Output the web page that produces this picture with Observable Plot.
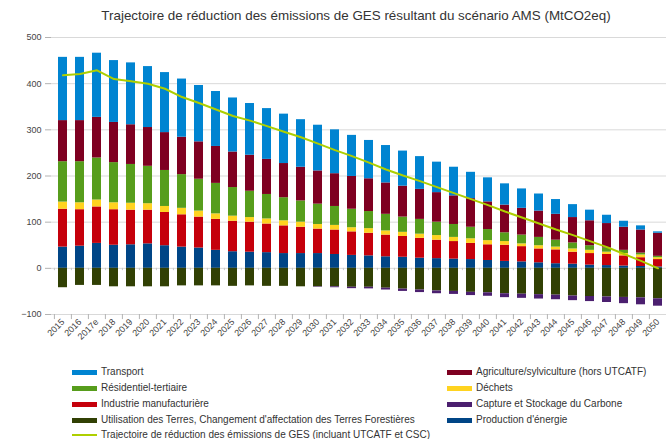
<!DOCTYPE html>
<html><head><meta charset="utf-8">
<script src="https://cdn.jsdelivr.net/npm/d3@7"></script>
<script src="https://cdn.jsdelivr.net/npm/@observablehq/plot@0.6"></script>
<style>
html,body{margin:0;padding:0;background:#fff;overflow:hidden;width:666px;height:439px;}
body{font-family:"Liberation Sans",Arial,sans-serif;color:#333;position:relative;}
#title{position:absolute;left:0;top:8px;width:712px;text-align:center;font-size:13.4px;color:#333;white-space:nowrap;}
#chart{position:absolute;left:0;top:30px;}
.li{position:absolute;font-size:10px;color:#333;white-space:nowrap;line-height:12px;}
.sw{position:absolute;width:25px;height:5px;}
</style></head><body>
<div id="title">Trajectoire de réduction des émissions de GES résultant du scénario AMS (MtCO2eq)</div>
<div id="chart"></div>
<div id="legend"></div>
<script>
const years = ["2015","2016","2017e","2018","2019","2020","2021","2022","2023","2024","2025","2026","2027","2028","2029","2030","2031","2032","2033","2034","2035","2036","2037","2038","2039","2040","2041","2042","2043","2044","2045","2046","2047","2048","2049","2050"];
const production = [46,48,54,50,51,53,49,46,44,39,36,35,34,32,32,32,30,28,27,25,24,22,21,20,19,17,15,14,12,10,9,7,6,5,4,3];
const industrie = [82,79,79,77,75,73,72,70,67,67,66,65,62,60,57,53,53,51,49,47,45,43,40,38,35,34,35,33,30,30,26,25,24,22,19,16];
const dechets = [15.5,15,15,15,15,14,13,14,13,12,11,10,11,11,11,10,10,9,10,9,9,9,10,9,10,9,8,6,7,6,7,7,5,5,6,4];
const residentiel = [87.5,89,91,87,84,81,78,73,69,66,62,57,53,50,46,44,41,40,37,36,33,32,29,28,25,24,19,19,18,15,13,10,9,7,4,3];
const agriculture = [89,89,88,87,86,84,82,81,81,80,77,78,76,74,73,72,71,71,71,68,67,65,64,62,62,60,60,58,57,56,55,54,53,50,50,50];
const transport = [137,137,139,134,134,132,130,126,122,119,117,112,110,107,103,99,95,89,83,81,76,71,66,62,57,52,46,42,37,32,28,23,18,13,9,3];
const utcatf = [-42,-37,-37,-40,-40,-40,-40,-38,-38,-38,-39,-38,-39,-39,-40,-40,-40,-41,-41,-43,-45,-47,-49,-50,-52,-53,-55,-56,-57,-58,-60,-61,-62,-63,-64,-66];
const ccs = [0,0,0,0,0,0,0,0,0,0,0,0,0,0,0,-1,-2,-3,-3.5,-4,-5,-5.5,-6,-6.5,-7,-7.5,-8.5,-9,-9.5,-10,-10,-11,-12,-13.5,-15,-16];
const trajectoire = [418,421,429,410,405,400,389,371,358,344,330,320,308,296,284,270,256,243,229,214,201,189,176,163,150,137,123,110,97,84,72,59,46,31,16,0];
const yTicks = [-100,0,100,200,300,400,500];

const seriesNames = ["Production d'énergie","Industrie manufacturière","Déchets","Résidentiel-tertiaire","Agriculture/sylviculture (hors UTCATF)","Transport","Utilisation des Terres, Changement d'affectation des Terres Forestières","Capture et Stockage du Carbone"];
const seriesValues = [production, industrie, dechets, residentiel, agriculture, transport, utcatf, ccs];
const seriesColors = ["#004586","#c5000b","#ffd320","#579d1c","#7e0021","#0084d1","#314004","#4b1f6f"];
const lineName = "Trajectoire de réduction des émissions de GES (incluant UTCATF et CSC)";
const lineColor = "#aecf00";

const rows = seriesNames.flatMap((name, s) => seriesValues[s].map((v, i) => ({year: years[i], serie: name, value: v})));
const lineRows = years.map((y, i) => ({year: y, value: trajectoire[i]}));

const W = 666, ML = 51, MR = -4;
const step = (W - MR - ML) / years.length;

const chart = Plot.plot({
  width: W, height: 330,
  marginLeft: ML, marginRight: MR, marginTop: 7, marginBottom: 46,
  style: {fontFamily: "Liberation Sans, Arial, sans-serif", overflow: "hidden", background: "white"},
  x: {type: "band", domain: years, paddingInner: 0.45, paddingOuter: 0.225, axis: null},
  y: {domain: [-100, 500], axis: null},
  color: {domain: seriesNames, range: seriesColors},
  marks: [
    Plot.gridY(yTicks, {stroke: "#d9d9d9", strokeOpacity: 1}),
    Plot.axisY(yTicks, {tickSize: 6, tickPadding: 4, stroke: "#b3b3b3", fill: "#444", fontSize: 9, line: true, label: null}),
    Plot.barY(rows, {x: "year", y: "value", fill: "serie"}),
    Plot.ruleX(years, {x: d => d, y1: 0, y2: -5, dx: -step / 2, stroke: "#c8c8c8"}),
    Plot.ruleX(years, {x: d => d, y1: -100, y2: -111, dx: -step / 2, stroke: "#b3b3b3"}),
    Plot.line(lineRows, {x: "year", y: "value", stroke: lineColor, strokeWidth: 2}),
    Plot.axisX(years, {tickSize: 0, tickRotate: -45, tickPadding: 6, fontSize: 9, fill: "#444", label: null})
  ]
});
document.getElementById("chart").append(chart);

// legend
const legend = document.getElementById("legend");
const items = [
  {name: "Transport", col: 0, row: 0},
  {name: "Résidentiel-tertiaire", col: 0, row: 1},
  {name: "Industrie manufacturière", col: 0, row: 2},
  {name: "Utilisation des Terres, Changement d'affectation des Terres Forestières", col: 0, row: 3},
  {name: lineName, col: 0, row: 4, line: true},
  {name: "Agriculture/sylviculture (hors UTCATF)", col: 1, row: 0},
  {name: "Déchets", col: 1, row: 1},
  {name: "Capture et Stockage du Carbone", col: 1, row: 2},
  {name: "Production d'énergie", col: 1, row: 3}
];
const colX = [72, 447], rowY = [372, 388, 404, 420, 435];
for (const it of items) {
  const color = it.line ? lineColor : seriesColors[seriesNames.indexOf(it.name)];
  const sw = document.createElement("div");
  sw.className = "sw";
  sw.style.left = colX[it.col] + "px";
  sw.style.top = (rowY[it.row] - (it.line ? 1 : 2.5)) + "px";
  sw.style.height = it.line ? "2px" : "5px";
  sw.style.background = color;
  legend.append(sw);
  const t = document.createElement("div");
  t.className = "li";
  t.style.left = (colX[it.col] + 29) + "px";
  t.style.top = (rowY[it.row] - 6) + "px";
  t.textContent = it.name;
  legend.append(t);
}
</script>
</body></html>
